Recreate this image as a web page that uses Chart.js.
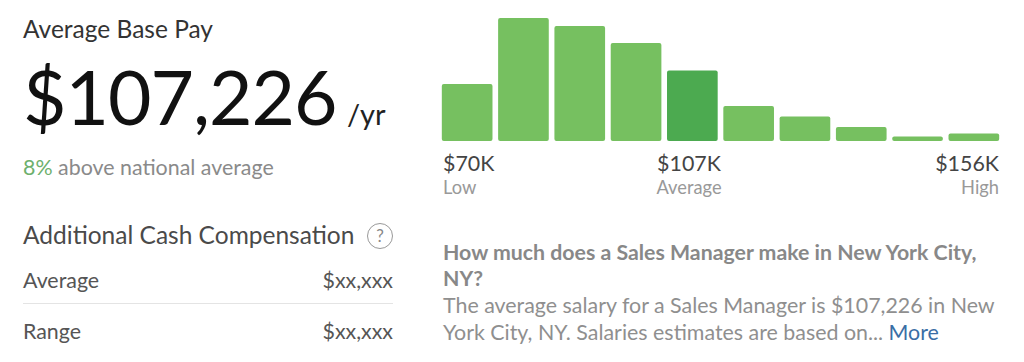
<!DOCTYPE html>
<html>
<head>
<meta charset="utf-8">
<script src="https://cdn.jsdelivr.net/npm/chart.js@4/dist/chart.umd.min.js"></script>
<style>
html, body { margin: 0; padding: 0; background: #fff; }
body { position: relative; width: 1024px; height: 362px; overflow: hidden; font-family: Lato, sans-serif; }
.t { position: absolute; white-space: nowrap; line-height: 1; }
#wrap { position: absolute; left: 439px; top: 0; width: 563px; height: 141px; }
#rule { position: absolute; left: 23px; top: 303px; width: 370px; height: 1px; background: #e4e4e4; }
#help { position: absolute; left: 367px; top: 223px; width: 24px; height: 24px; border: 1px solid #999; border-radius: 50%; color: #888; font-size: 17px; line-height: 24px; text-align: center; }
</style>
</head>
<body>
<div class="t" style="left:23px;top:17px;font-size:24.5px;color:#333">Average Base Pay</div>
<div class="t" style="left:23px;top:59px;font-size:75px;letter-spacing:-1px;color:#111">$107,226</div>
<div class="t" style="left:347px;top:99px;font-size:29px;color:#222">/yr</div>
<div class="t" style="left:23px;top:157px;font-size:21.4px;color:#8a8a8a"><span style="color:#6db06d">8%</span> above national average</div>
<div class="t" style="left:23px;top:223px;font-size:24.5px;color:#4a4a4a">Additional Cash Compensation</div>
<div id="help">?</div>
<div class="t" style="left:23px;top:270px;font-size:21.4px;color:#555">Average</div>
<div class="t" style="right:631px;top:270px;font-size:21.4px;color:#555">$xx,xxx</div>
<div id="rule"></div>
<div class="t" style="left:23px;top:321px;font-size:21.4px;color:#555">Range</div>
<div class="t" style="right:631px;top:321px;font-size:21.4px;color:#555">$xx,xxx</div>

<div id="wrap"><canvas id="canvas" width="563" height="141"></canvas></div>
<div id="labels"></div>

<div class="t" style="left:443px;top:239px;font-size:21.3px;font-weight:700;color:#888;line-height:26px">How much does a Sales Manager make in New York City,<br>NY?</div>
<div class="t" style="left:443px;top:292px;font-size:21.4px;color:#8f8f8f;line-height:27px">The average salary for a Sales Manager is $107,226 in New<br>York City, NY. Salaries estimates are based on... <span style="color:#3a6ea5">More</span></div>

<script>
// bar heights, no axis in the original so units are arbitrary
let bins = ['b1','b2','b3','b4','b5','b6','b7','b8','b9','b10'];
let counts = [57, 123, 115, 98, 70.5, 35, 24.5, 14, 4.5, 7.5];
let averageBin = 4;
let tickValues = ['$70K', '$107K', '$156K'];
let tickNames = ['Low', 'Average', 'High'];

let colors = [];
for (let i = 0; i < counts.length; i++) {
    colors.push(i === averageBin ? '#4caa50' : '#76c060');
}

let options = {
    type: 'bar',
    data: {
        labels: bins,
        datasets: [{
            data: counts,
            backgroundColor: colors,
            borderWidth: 0,
            borderRadius: 2,
            borderSkipped: false,
            barPercentage: 0.9,
            categoryPercentage: 1
        }]
    },
    options: {
        responsive: false,
        animation: false,
        layout: { padding: 0 },
        plugins: { legend: { display: false }, tooltip: { enabled: false } },
        scales: {
            x: { display: false },
            y: { display: false, min: 0, max: 141 }
        }
    }
};
let chart = new Chart(document.getElementById('canvas'), options);

// low / average / high labels under the bars
let anchors = [
    { side: 'left', pos: 443 },
    { side: 'center', pos: 689 },
    { side: 'right', pos: 25 }
];
let html = '';
for (let i = 0; i < tickValues.length; i++) {
    let a = anchors[i];
    let place = a.side === 'left' ? 'left:' + a.pos + 'px'
        : a.side === 'right' ? 'right:' + a.pos + 'px'
        : 'left:' + a.pos + 'px;transform:translateX(-50%)';
    html += '<div class="t" style="' + place + ';top:153px;font-size:21.4px;color:#444">' + tickValues[i] + '</div>';
    html += '<div class="t" style="' + place + ';top:178px;font-size:18.3px;color:#999">' + tickNames[i] + '</div>';
}
document.getElementById('labels').innerHTML = html;
</script>
</body>
</html>
